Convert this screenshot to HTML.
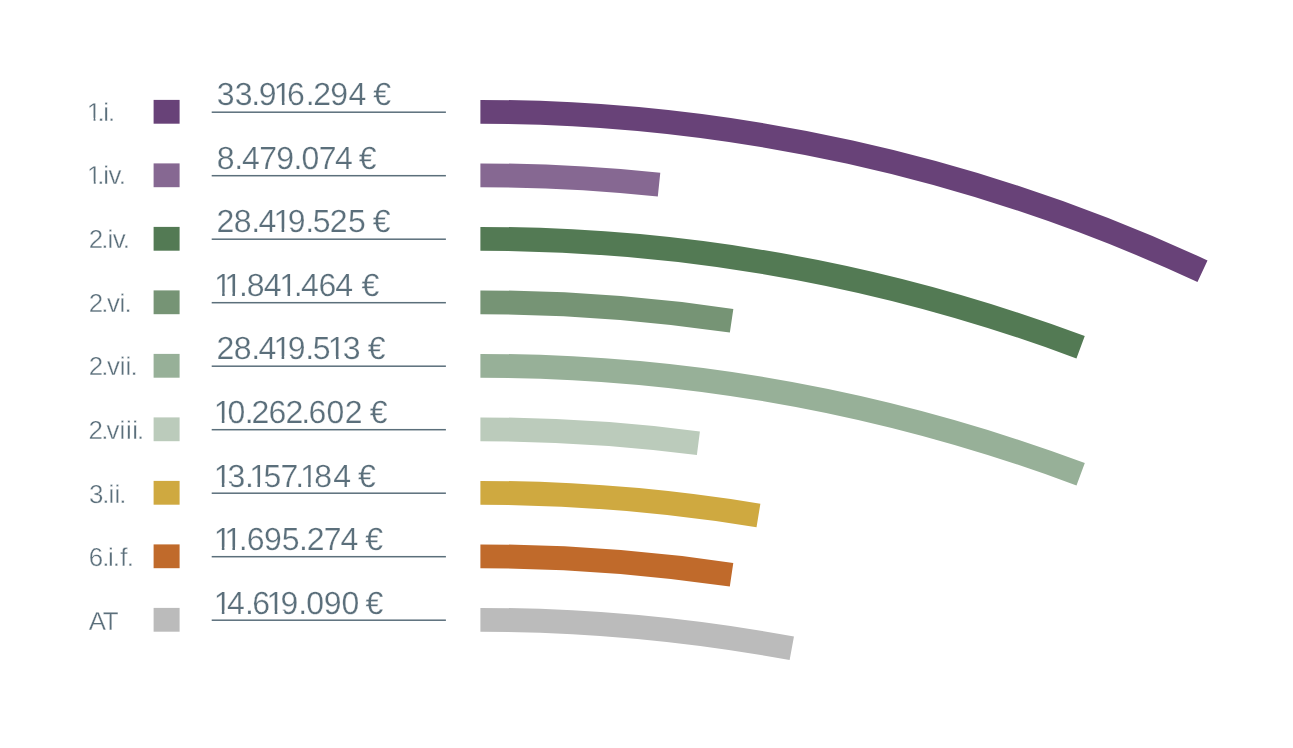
<!DOCTYPE html>
<html lang="es"><head><meta charset="utf-8"><title>Chart</title>
<style>
html,body{margin:0;padding:0;background:#fff;}
body{width:1293px;height:748px;overflow:hidden;}
svg{display:block;}
text{font-family:"Liberation Sans",sans-serif;fill:#5b6f7b;stroke:#fff;text-rendering:geometricPrecision;}
.lab{font-size:25.9px;stroke-width:0.35px;}
.val{font-size:32.0px;stroke-width:0.25px;}
</style></head><body>
<svg width="1293" height="748" viewBox="0 0 1293 748">
<rect width="1293" height="748" fill="#fff"/>
<defs><mask id="m" maskUnits="userSpaceOnUse" x="0" y="0" width="1293" height="748"><rect width="1293" height="748" fill="#fff"/>
<rect x="87.25" y="117.82" width="6.32" height="4.13" fill="#000"/><rect x="95.50" y="117.82" width="4.00" height="4.13" fill="#000"/><rect x="274.59" y="101.51" width="7.33" height="4.59" fill="#000"/><rect x="284.50" y="101.51" width="7.08" height="4.59" fill="#000"/><rect x="87.45" y="181.47" width="6.32" height="4.13" fill="#000"/><rect x="95.70" y="181.47" width="3.70" height="4.13" fill="#000"/><rect x="274.29" y="228.76" width="7.33" height="4.59" fill="#000"/><rect x="284.20" y="228.76" width="7.08" height="4.59" fill="#000"/><rect x="214.79" y="292.38" width="7.33" height="4.59" fill="#000"/><rect x="224.70" y="292.38" width="7.08" height="4.59" fill="#000"/><rect x="225.09" y="292.38" width="7.33" height="4.59" fill="#000"/><rect x="235.00" y="292.38" width="6.30" height="4.59" fill="#000"/><rect x="280.19" y="292.38" width="7.33" height="4.59" fill="#000"/><rect x="290.10" y="292.38" width="6.30" height="4.59" fill="#000"/><rect x="274.29" y="356.01" width="7.33" height="4.59" fill="#000"/><rect x="284.20" y="356.01" width="7.08" height="4.59" fill="#000"/><rect x="328.69" y="356.01" width="7.33" height="4.59" fill="#000"/><rect x="338.60" y="356.01" width="7.08" height="4.59" fill="#000"/><rect x="214.49" y="419.63" width="7.33" height="4.59" fill="#000"/><rect x="224.40" y="419.63" width="7.08" height="4.59" fill="#000"/><rect x="214.49" y="483.26" width="7.33" height="4.59" fill="#000"/><rect x="224.40" y="483.26" width="7.08" height="4.59" fill="#000"/><rect x="251.40" y="483.26" width="6.02" height="4.59" fill="#000"/><rect x="260.00" y="483.26" width="7.08" height="4.59" fill="#000"/><rect x="301.70" y="483.26" width="6.42" height="4.59" fill="#000"/><rect x="310.70" y="483.26" width="7.08" height="4.59" fill="#000"/><rect x="214.49" y="546.88" width="7.33" height="4.59" fill="#000"/><rect x="224.40" y="546.88" width="7.08" height="4.59" fill="#000"/><rect x="225.09" y="546.88" width="7.33" height="4.59" fill="#000"/><rect x="235.00" y="546.88" width="6.30" height="4.59" fill="#000"/><rect x="214.49" y="610.51" width="7.33" height="4.59" fill="#000"/><rect x="224.40" y="610.51" width="7.08" height="4.59" fill="#000"/><rect x="267.39" y="610.51" width="7.33" height="4.59" fill="#000"/><rect x="277.30" y="610.51" width="7.08" height="4.59" fill="#000"/>
</mask></defs>
<path d="M480.40 111.80A1715 1715 0 0 1 1202.50 271.23" fill="none" stroke="#684278" stroke-width="23.8"/>
<rect x="153.6" y="99.90" width="26" height="23.8" fill="#684278"/>
<rect x="211.7" y="111.45" width="234.2" height="1.5" fill="#5b6f7b"/>
<path d="M480.40 175.30A1715 1715 0 0 1 659.05 184.63" fill="none" stroke="#866892" stroke-width="23.8"/>
<rect x="153.6" y="163.40" width="26" height="23.8" fill="#866892"/>
<rect x="211.7" y="174.95" width="234.2" height="1.5" fill="#5b6f7b"/>
<path d="M480.40 238.80A1715 1715 0 0 1 1080.60 347.26" fill="none" stroke="#537a54" stroke-width="23.8"/>
<rect x="153.6" y="226.90" width="26" height="23.8" fill="#537a54"/>
<rect x="211.7" y="238.45" width="234.2" height="1.5" fill="#5b6f7b"/>
<path d="M480.40 302.30A1715 1715 0 0 1 731.60 320.80" fill="none" stroke="#769475" stroke-width="23.8"/>
<rect x="153.6" y="290.40" width="26" height="23.8" fill="#769475"/>
<rect x="211.7" y="301.95" width="234.2" height="1.5" fill="#5b6f7b"/>
<path d="M480.40 365.80A1715 1715 0 0 1 1080.65 474.27" fill="none" stroke="#97b098" stroke-width="23.8"/>
<rect x="153.6" y="353.90" width="26" height="23.8" fill="#97b098"/>
<rect x="211.7" y="365.45" width="234.2" height="1.5" fill="#5b6f7b"/>
<path d="M480.40 429.30A1715 1715 0 0 1 698.40 443.21" fill="none" stroke="#bbcbbb" stroke-width="23.8"/>
<rect x="153.6" y="417.40" width="26" height="23.8" fill="#bbcbbb"/>
<rect x="211.7" y="428.95" width="234.2" height="1.5" fill="#5b6f7b"/>
<path d="M480.40 492.80A1715 1715 0 0 1 758.45 515.49" fill="none" stroke="#cfa940" stroke-width="23.8"/>
<rect x="153.6" y="480.90" width="26" height="23.8" fill="#cfa940"/>
<rect x="211.7" y="492.45" width="234.2" height="1.5" fill="#5b6f7b"/>
<path d="M480.40 556.30A1715 1715 0 0 1 731.55 574.79" fill="none" stroke="#c06a2b" stroke-width="23.8"/>
<rect x="153.6" y="544.40" width="26" height="23.8" fill="#c06a2b"/>
<rect x="211.7" y="555.95" width="234.2" height="1.5" fill="#5b6f7b"/>
<path d="M480.40 619.80A1715 1715 0 0 1 791.80 648.31" fill="none" stroke="#bbbbbb" stroke-width="23.8"/>
<rect x="153.6" y="607.90" width="26" height="23.8" fill="#bbbbbb"/>
<rect x="211.7" y="619.45" width="234.2" height="1.5" fill="#5b6f7b"/>
<g mask="url(#m)">
<text class="lab" x="86.87 97.45 103.18 107.95" y="120.75">1.i.</text>
<text class="val" x="216.65 234.75 251.15 258.66 273.75 287.04 305.85 313.25 330.36 348.55 366.35 373.15" y="104.90">33.916.294 €</text>
<text class="lab" x="87.07 97.30 103.13 108.43 118.85" y="184.40">1.iv.</text>
<text class="val" x="216.75 234.35 241.95 259.14 276.21 293.50 301.40 318.64 335.10 352.90 358.85" y="168.53">8.479.074 €</text>
<text class="lab" x="88.65 101.30 107.53 112.83 122.85" y="248.05">2.iv.</text>
<text class="val" x="216.40 233.75 251.25 258.50 273.45 287.81 305.35 312.63 329.65 348.08 365.88 372.75" y="232.15">28.419.525 €</text>
<text class="lab" x="88.65 101.30 106.97 119.53 124.45" y="311.70">2.vi.</text>
<text class="val" x="213.95 224.25 239.00 246.80 263.65 279.35 293.85 301.10 318.54 335.35 353.15 361.60" y="295.77">11.841.464 €</text>
<text class="lab" x="88.65 101.30 106.97 119.63 125.53 130.45" y="375.35">2.vii.</text>
<text class="val" x="216.40 233.75 251.25 258.50 273.45 287.81 305.35 312.63 327.85 342.65 360.44 367.65" y="359.40">28.419.513 €</text>
<text class="lab" x="88.55 101.25 106.47 119.53 125.88 132.18 136.95" y="439.00">2.viii.</text>
<text class="val" x="213.65 227.55 244.75 251.45 268.54 285.55 301.20 308.54 326.40 344.75 362.55 369.70" y="423.02">10.262.602 €</text>
<text class="lab" x="89.07 102.30 108.53 114.53 119.35" y="502.65">3.ii.</text>
<text class="val" x="213.65 227.45 245.05 249.25 263.58 280.44 295.35 299.95 314.25 333.30 351.10 358.05" y="486.65">13.157.184 €</text>
<text class="lab" x="88.86 102.30 108.03 112.85 120.30 126.85" y="566.30">6.i.f.</text>
<text class="val" x="213.65 224.25 238.85 246.84 264.11 281.83 299.05 306.65 323.84 340.45 358.25 365.20" y="550.27">11.695.274 €</text>
<text class="lab" x="88.81 102.65" y="629.95">AT</text>
<text class="val" x="213.65 227.10 245.05 252.14 266.55 280.46 298.25 306.20 323.86 341.40 359.20 365.45" y="613.90">14.619.090 €</text>
</g>
</svg></body></html>
